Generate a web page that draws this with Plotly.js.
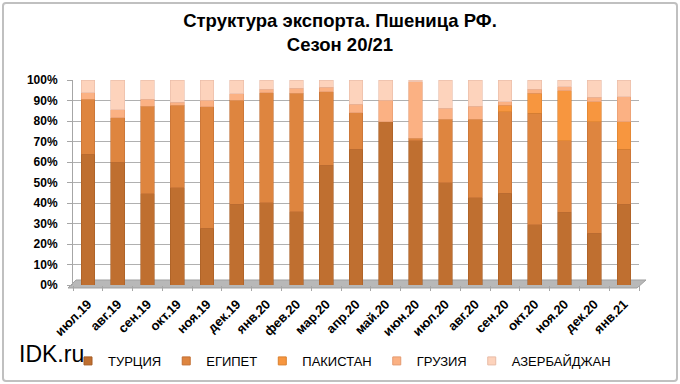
<!DOCTYPE html>
<html>
<head>
<meta charset="utf-8">
<script src="https://cdn.plot.ly/plotly-3.0.1.min.js"></script>
<style>
html,body{margin:0;padding:0;background:#fff;}
#wrap{position:relative;width:680px;height:384px;}
#chart{width:680px;height:384px;}
#frame{position:absolute;left:2px;top:2px;width:672px;height:376px;border:2px solid #c0c0c0;border-radius:4px;pointer-events:none;}
</style>
</head>
<body>
<div id="wrap"><div id="chart"></div><div id="frame"></div></div>
<script>
const months = ['июл.19','авг.19','сен.19','окт.19','ноя.19','дек.19','янв.20','фев.20','мар.20','апр.20','май.20','июн.20','июл.20','авг.20','сен.20','окт.20','ноя.20','дек.20','янв.21'];
const turkey     = [63.9, 59.8, 44.6, 47.5, 27.6, 39.5, 40.2, 35.8, 58.5, 66.2, 79.7, 70.3, 49.8, 42.6, 44.7, 29.3, 35.4, 25.2, 39.5];
const egypt      = [26.7, 21.8, 42.7, 40.3, 59.4, 50.7, 53.6, 57.7, 35.8, 17.9,  0.0,  1.2, 31.0, 38.2, 39.9, 54.4, 35.0, 54.5, 26.8];
const pakistan   = [ 0.0,  0.0,  0.0,  0.0,  0.0,  0.0,  0.0,  0.0,  0.0,  0.0,  0.0,  0.0,  0.0,  0.0,  3.2,  9.8, 24.4,  9.7, 13.4];
const georgia    = [ 3.2,  3.8,  3.3,  1.3,  3.2,  3.0,  1.6,  2.4,  2.1,  4.0, 10.5, 27.7,  5.4,  6.5,  1.6,  1.9,  1.9,  2.1, 12.2];
const azerbaijan = [ 6.2, 14.6,  9.4, 10.9,  9.8,  6.8,  4.6,  4.1,  3.6, 11.9,  9.8,  0.8, 13.8, 12.7, 10.6,  4.6,  3.3,  8.5,  8.1];
const yTicks = [0,10,20,30,40,50,60,70,80,90,100];

const seriesNames = ['ТУРЦИЯ','ЕГИПЕТ','ПАКИСТАН','ГРУЗИЯ','АЗЕРБАЙДЖАН'];
const seriesData = [turkey, egypt, pakistan, georgia, azerbaijan];
const colors = ['#bf6f30','#de853f','#f7963f','#fbb183','#fdd3bc'];
const edges  = ['#a65d24','#c27035','#d9802f','#e59a70','#e8bba6'];

const traces = seriesData.map((vals, i) => ({
  type: 'bar',
  name: seriesNames[i],
  x: months,
  y: vals,
  width: 0.46,
  marker: {color: colors[i], line: {color: edges[i], width: 0.6}},
  showlegend: false,
  hoverinfo: 'skip'
}));
// legend entries with small square keys
seriesNames.forEach((nm, i) => {
  traces.push({
    type: 'scatter', mode: 'markers', name: nm,
    x: [null], y: [null],
    marker: {symbol: 'square', size: 8, color: colors[i], line: {color: edges[i], width: 1}},
    showlegend: true, hoverinfo: 'skip'
  });
});

const sans = '"Liberation Sans", Arial, sans-serif';

const layout = {
  width: 680, height: 384,
  margin: {l: 73, r: 41, t: 80, b: 99},
  paper_bgcolor: '#ffffff',
  plot_bgcolor: '#ffffff',
  barmode: 'stack',
  bargap: 0.5,
  showlegend: true,
  title: {
    text: 'Структура экспорта. Пшеница РФ.<br>Сезон 20/21',
    font: {family: sans, size: 18.5, color: '#000', weight: 'bold'},
    x: 0.5, xref: 'container', xanchor: 'center',
    y: 0.93, yref: 'container', yanchor: 'top'
  },
  xaxis: {
    type: 'category',
    range: [-0.5, 18.5],
    tickangle: -45,
    tickfont: {family: sans, size: 13, color: '#000', weight: 'bold'},
    ticks: 'outside', tickson: 'boundaries', ticklen: 5, tickcolor: '#a6a6a6',
    ticklabelstandoff: 8,
    showline: false, showgrid: false, zeroline: false,
    fixedrange: true
  },
  yaxis: {
    range: [0, 100],
    tickvals: yTicks,
    ticktext: yTicks.map(v => v + '%'),
    tickfont: {family: sans, size: 12, color: '#000', weight: 'bold'},
    ticks: 'outside', ticklen: 5, tickcolor: '#a6a6a6',
    ticklabelstandoff: 7,
    showline: true, linecolor: '#a6a6a6', linewidth: 1,
    showgrid: true, gridcolor: '#b0b0b0', gridwidth: 1,
    zeroline: false,
    fixedrange: true
  },
  legend: {
    orientation: 'h',
    x: 0.1, xref: 'container', xanchor: 'left',
    y: 0.06, yref: 'container', yanchor: 'middle',
    traceorder: 'normal',
    font: {family: sans, size: 13, color: '#000'},
    itemwidth: 30,
    bgcolor: 'rgba(0,0,0,0)'
  },
  shapes: [
    {type: 'path', xref: 'paper', yref: 'paper', layer: 'below',
     path: 'M -0.0088 -0.0146 L 0.9965 -0.0146 L 1.0124 0.0244 L 0.0053 0.0244 Z',
     fillcolor: '#b8b8b8', line: {color: '#a0a0a0', width: 1}}
  ],
  annotations: [
    {text: 'IDK.ru', xref: 'paper', yref: 'paper', x: -0.099, y: -0.337,
     xanchor: 'left', yanchor: 'middle', showarrow: false,
     font: {family: sans, size: 23, color: '#000'}}
  ]
};

Plotly.newPlot('chart', traces, layout, {displayModeBar: false, staticPlot: true});
</script>
</body>
</html>
